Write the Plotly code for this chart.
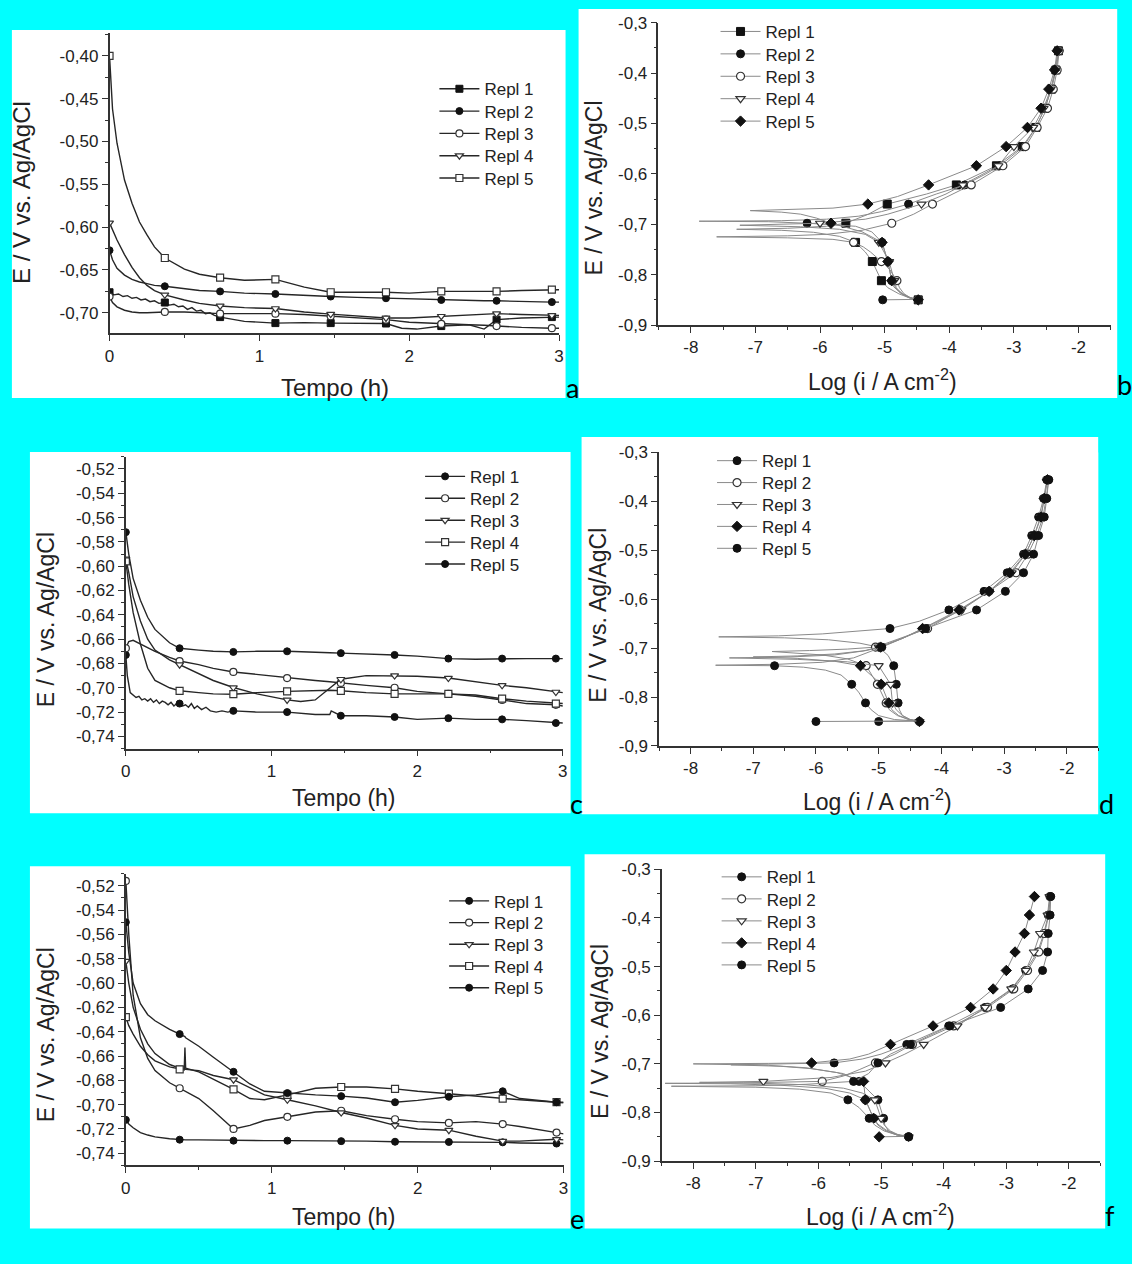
import numpy as np
import plotly.graph_objects as go

W, H = 1132, 1264

# ------------------------------------------------------------------ data
SERIES_NAMES = ["Repl 1", "Repl 2", "Repl 3", "Repl 4", "Repl 5"]
MARK_T = [0, 0.369, 0.738, 1.107, 1.476, 1.845, 2.214, 2.583, 2.952]
GRID_E = [-0.85, -0.812, -0.774, -0.736, -0.698, -0.66, -0.622, -0.584,
          -0.546, -0.508, -0.47, -0.432, -0.394, -0.356]

# tick labels
TIME_TICKS = [0, 1, 2, 3]
TIME_TICKTEXT = ["0", "1", "2", "3"]
A_YTICKS = [-0.40, -0.45, -0.50, -0.55, -0.60, -0.65, -0.70]
A_YTICKTEXT = ["-0,40", "-0,45", "-0,50", "-0,55", "-0,60", "-0,65", "-0,70"]
CE_YTICKS = [-0.52, -0.54, -0.56, -0.58, -0.60, -0.62, -0.64, -0.66, -0.68,
             -0.70, -0.72, -0.74]
CE_YTICKTEXT = ["-0,52", "-0,54", "-0,56", "-0,58", "-0,60", "-0,62", "-0,64",
                "-0,66", "-0,68", "-0,70", "-0,72", "-0,74"]
POL_XTICKS = [-8, -7, -6, -5, -4, -3, -2]
POL_XTICKTEXT = ["-8", "-7", "-6", "-5", "-4", "-3", "-2"]
POL_YTICKS = [-0.3, -0.4, -0.5, -0.6, -0.7, -0.8, -0.9]
POL_YTICKTEXT = ["-0,3", "-0,4", "-0,5", "-0,6", "-0,7", "-0,8", "-0,9"]

# ---- panel a : OCP vs time
A_T = [0, 0.02, 0.05, 0.1, 0.15, 0.2, 0.25, 0.3, 0.369, 0.5, 0.6, 0.738, 0.9,
       1.107, 1.3, 1.476, 1.65, 1.845, 2.0, 2.214, 2.4, 2.5, 2.583, 2.75, 2.952, 3.0]
A_R1_T = [0, 0.03, 0.06, 0.09, 0.12, 0.15, 0.18, 0.21, 0.24, 0.27, 0.30, 0.33,
          0.369, 0.40, 0.43, 0.46, 0.49, 0.52, 0.55, 0.58, 0.61, 0.64, 0.67, 0.70,
          0.738, 0.9, 1.107, 1.3, 1.476, 1.65, 1.845, 1.95, 2.05, 2.214, 2.4, 2.5,
          2.583, 2.75, 2.952, 3.0]
A_R1 = [-0.676, -0.679, -0.678, -0.681, -0.680, -0.683, -0.682, -0.685, -0.684,
        -0.687, -0.686, -0.689, -0.688, -0.691, -0.690, -0.693, -0.692, -0.696,
        -0.694, -0.698, -0.697, -0.701, -0.700, -0.703, -0.705, -0.710, -0.712,
        -0.7115, -0.712, -0.712, -0.7125, -0.718, -0.719, -0.7155, -0.714, -0.719,
        -0.708, -0.706, -0.705, -0.705]
A_R2 = [-0.627, -0.638, -0.648, -0.656, -0.661, -0.664, -0.666, -0.668, -0.669,
        -0.672, -0.674, -0.675, -0.677, -0.678, -0.680, -0.681, -0.682, -0.683,
        -0.684, -0.685, -0.6855, -0.686, -0.686, -0.687, -0.6875, -0.6875]
A_R3 = [-0.681, -0.688, -0.693, -0.697, -0.699, -0.700, -0.700, -0.6995, -0.699,
        -0.699, -0.700, -0.701, -0.701, -0.701, -0.702, -0.704, -0.706, -0.708,
        -0.711, -0.713, -0.714, -0.7145, -0.7155, -0.717, -0.718, -0.718]
A_R4 = [-0.595, -0.603, -0.615, -0.632, -0.647, -0.659, -0.668, -0.674, -0.679,
        -0.685, -0.689, -0.692, -0.694, -0.695, -0.699, -0.7015, -0.704, -0.706,
        -0.706, -0.704, -0.702, -0.701, -0.701, -0.702, -0.703, -0.703]
A_R5 = [-0.40, -0.462, -0.502, -0.545, -0.572, -0.594, -0.609, -0.623, -0.636,
        -0.649, -0.655, -0.659, -0.662, -0.661, -0.670, -0.676, -0.676, -0.676,
        -0.677, -0.675, -0.675, -0.675, -0.675, -0.674, -0.673, -0.673]

# ---- panel c : OCP vs time
C_T = [0, 0.02, 0.05, 0.1, 0.15, 0.2, 0.3, 0.369, 0.5, 0.6, 0.738, 0.9, 1.107,
       1.2, 1.3, 1.4, 1.476, 1.65, 1.845, 2.0, 2.214, 2.4, 2.583, 2.75, 2.952, 3.0]
C_R1_T = [0, 0.01, 0.03, 0.05, 0.07, 0.09, 0.11, 0.13, 0.15, 0.17, 0.19, 0.21,
          0.23, 0.25, 0.27, 0.29, 0.31, 0.33, 0.35, 0.369, 0.39, 0.41, 0.43, 0.45,
          0.47, 0.49, 0.52, 0.55, 0.58, 0.62, 0.66, 0.70, 0.738, 0.9, 1.107, 1.3,
          1.40, 1.41, 1.476, 1.65, 1.845, 2.0, 2.214, 2.4, 2.583, 2.75, 2.952, 3.0]
C_R1 = [-0.673, -0.690, -0.704, -0.706, -0.708, -0.707, -0.710, -0.709, -0.711,
        -0.709, -0.712, -0.710, -0.713, -0.711, -0.712, -0.714, -0.712, -0.715,
        -0.713, -0.713, -0.715, -0.714, -0.716, -0.713, -0.717, -0.715, -0.718,
        -0.716, -0.719, -0.720, -0.719, -0.720, -0.719, -0.720, -0.720, -0.722,
        -0.722, -0.719, -0.723, -0.723, -0.724, -0.726, -0.725, -0.726, -0.726,
        -0.727, -0.729, -0.729]
C_R2 = [-0.6675, -0.662, -0.661, -0.664, -0.667, -0.670, -0.675, -0.678, -0.681,
        -0.684, -0.687, -0.689, -0.692, -0.693, -0.694, -0.695, -0.696, -0.698,
        -0.700, -0.703, -0.705, -0.707, -0.710, -0.713, -0.714, -0.715]
C_R3 = [-0.594, -0.605, -0.625, -0.645, -0.660, -0.669, -0.677, -0.681, -0.688,
        -0.694, -0.6998, -0.705, -0.710, -0.7113, -0.710, -0.700, -0.693, -0.690,
        -0.690, -0.6905, -0.692, -0.695, -0.698, -0.700, -0.7035, -0.704]
C_R4 = [-0.596, -0.615, -0.638, -0.664, -0.684, -0.694, -0.700, -0.7025, -0.704,
        -0.705, -0.7053, -0.704, -0.703, -0.7025, -0.702, -0.702, -0.7025, -0.704,
        -0.705, -0.705, -0.705, -0.706, -0.709, -0.711, -0.713, -0.713]
C_R5 = [-0.572, -0.590, -0.610, -0.628, -0.642, -0.652, -0.663, -0.6675, -0.669,
        -0.670, -0.6705, -0.670, -0.670, -0.6702, -0.671, -0.6712, -0.6715, -0.672,
        -0.673, -0.674, -0.676, -0.6765, -0.676, -0.676, -0.676, -0.676]

# ---- panel e : OCP vs time
E_T = [0, 0.02, 0.05, 0.1, 0.15, 0.2, 0.3, 0.369, 0.40, 0.405, 0.41, 0.5, 0.6,
       0.738, 0.85, 0.95, 1.107, 1.3, 1.476, 1.65, 1.845, 2.0, 2.214, 2.4, 2.583,
       2.7, 2.952, 3.0]
E_R1 = [-0.7125, -0.716, -0.719, -0.723, -0.725, -0.7265, -0.728, -0.7288, -0.729,
        -0.729, -0.729, -0.729, -0.7292, -0.7296, -0.7296, -0.7296, -0.7296,
        -0.7296, -0.730, -0.730, -0.7305, -0.7305, -0.7307, -0.731, -0.731,
        -0.7315, -0.732, -0.732]
E_R2 = [-0.516, -0.560, -0.610, -0.645, -0.662, -0.672, -0.682, -0.6865, -0.688,
        -0.6885, -0.689, -0.695, -0.705, -0.720, -0.717, -0.713, -0.710, -0.706,
        -0.705, -0.709, -0.712, -0.714, -0.715, -0.714, -0.716, -0.718, -0.723,
        -0.724]
E_R3 = [-0.582, -0.600, -0.620, -0.638, -0.650, -0.658, -0.667, -0.670, -0.6705,
        -0.671, -0.671, -0.672, -0.676, -0.6795, -0.686, -0.692, -0.696, -0.701,
        -0.7065, -0.711, -0.717, -0.720, -0.721, -0.726, -0.730, -0.730, -0.7285,
        -0.729]
E_R4 = [-0.628, -0.635, -0.642, -0.652, -0.659, -0.664, -0.669, -0.671, -0.6715,
        -0.653, -0.670, -0.673, -0.679, -0.6875, -0.695, -0.696, -0.692, -0.6865,
        -0.6855, -0.6855, -0.687, -0.689, -0.691, -0.693, -0.695, -0.696, -0.698,
        -0.698]
E_R5 = [-0.550, -0.575, -0.600, -0.617, -0.626, -0.631, -0.638, -0.642, -0.644,
        -0.644, -0.645, -0.652, -0.661, -0.673, -0.683, -0.689, -0.6905, -0.692,
        -0.693, -0.6945, -0.698, -0.6965, -0.6935, -0.692, -0.689, -0.695, -0.698,
        -0.6985]

# ---- panel b : polarization curves (E / V, log i)
B_R1_E = [-0.85, -0.846, -0.838, -0.826, -0.812, -0.79, -0.774, -0.755, -0.736,
          -0.724, -0.716, -0.712, -0.710, -0.708, -0.704, -0.698, -0.68, -0.66,
          -0.64, -0.622, -0.60, -0.584, -0.546, -0.508, -0.47, -0.432, -0.394, -0.356]
B_R1_I = [-4.48, -4.62, -4.78, -4.95, -5.05, -5.13, -5.19, -5.30, -5.45, -5.70,
          -6.10, -6.60, -7.29, -6.50, -5.90, -5.60, -5.25, -4.96, -4.35, -3.89,
          -3.52, -3.27, -2.87, -2.66, -2.52, -2.42, -2.35, -2.31]
B_R2_E = [-0.85, -0.849, -0.845, -0.836, -0.824, -0.812, -0.774, -0.736, -0.715,
          -0.704, -0.698, -0.695, -0.694, -0.693, -0.690, -0.684, -0.675, -0.66,
          -0.64, -0.622, -0.60, -0.584, -0.546, -0.508, -0.47, -0.432, -0.394, -0.356]
B_R2_I = [-5.03, -4.48, -4.62, -4.76, -4.86, -4.89, -4.95, -5.04, -5.20, -5.45,
          -6.20, -6.80, -7.87, -6.60, -5.90, -5.40, -5.05, -4.63, -4.20, -3.76,
          -3.43, -3.22, -2.85, -2.66, -2.52, -2.42, -2.35, -2.30]
B_R3_E = [-0.85, -0.846, -0.838, -0.826, -0.812, -0.79, -0.774, -0.755, -0.745,
          -0.736, -0.730, -0.727, -0.725, -0.723, -0.720, -0.712, -0.698, -0.68,
          -0.66, -0.64, -0.622, -0.584, -0.546, -0.508, -0.47, -0.432, -0.394, -0.356]
B_R3_I = [-4.48, -4.60, -4.70, -4.77, -4.81, -4.92, -5.05, -5.22, -5.33, -5.48,
          -5.80, -6.50, -7.60, -6.50, -5.90, -5.35, -4.89, -4.55, -4.26, -3.95,
          -3.66, -3.17, -2.82, -2.64, -2.48, -2.39, -2.33, -2.30]
B_R4_E = [-0.85, -0.846, -0.838, -0.826, -0.812, -0.774, -0.736, -0.720, -0.710,
          -0.705, -0.702, -0.700, -0.698, -0.690, -0.68, -0.66, -0.64, -0.622,
          -0.584, -0.546, -0.508, -0.47, -0.432, -0.394, -0.356]
B_R4_I = [-4.48, -4.62, -4.74, -4.82, -4.85, -4.93, -5.09, -5.30, -5.70, -6.30,
          -7.24, -6.50, -6.00, -5.30, -4.95, -4.43, -4.05, -3.79, -3.24, -3.00,
          -2.70, -2.54, -2.43, -2.36, -2.32]
B_R5_E = [-0.85, -0.846, -0.838, -0.826, -0.812, -0.774, -0.736, -0.715, -0.698,
          -0.688, -0.680, -0.676, -0.673, -0.671, -0.668, -0.66, -0.645, -0.622,
          -0.584, -0.546, -0.508, -0.47, -0.432, -0.394, -0.356]
B_R5_I = [-4.48, -4.60, -4.72, -4.83, -4.89, -4.95, -5.04, -5.35, -5.83, -6.05,
          -6.30, -6.60, -7.08, -6.50, -5.80, -5.26, -4.80, -4.32, -3.58, -3.12,
          -2.79, -2.58, -2.46, -2.37, -2.33]

# ---- panel d
D_R1_E = [-0.85, -0.849, -0.846, -0.838, -0.826, -0.812, -0.774, -0.736, -0.715,
          -0.698, -0.690, -0.683, -0.679, -0.677, -0.675, -0.671, -0.66, -0.645,
          -0.622, -0.584, -0.546, -0.508, -0.47, -0.432, -0.394, -0.356]
D_R1_I = [-5.00, -4.35, -4.50, -4.62, -4.67, -4.69, -4.72, -4.76, -4.85, -5.00,
          -5.30, -5.80, -6.50, -7.55, -6.60, -5.90, -4.82, -4.35, -3.88, -3.32,
          -2.95, -2.69, -2.56, -2.45, -2.37, -2.32]
D_R2_E = [-0.85, -0.846, -0.838, -0.826, -0.812, -0.774, -0.736, -0.722, -0.714,
          -0.710, -0.707, -0.705, -0.702, -0.698, -0.68, -0.66, -0.622, -0.584,
          -0.546, -0.508, -0.47, -0.432, -0.394, -0.356]
D_R2_I = [-4.35, -4.52, -4.70, -4.83, -4.88, -5.02, -5.20, -5.50, -5.90, -6.30,
          -6.70, -6.10, -5.50, -5.05, -4.65, -4.22, -3.70, -3.24, -2.81, -2.62,
          -2.48, -2.38, -2.33, -2.29]
D_R3_E = [-0.85, -0.846, -0.838, -0.826, -0.812, -0.774, -0.736, -0.728, -0.723,
          -0.720, -0.718, -0.714, -0.706, -0.698, -0.68, -0.66, -0.622, -0.584,
          -0.546, -0.508, -0.47, -0.432, -0.394, -0.356]
D_R3_I = [-4.35, -4.50, -4.62, -4.72, -4.78, -4.81, -5.00, -5.50, -6.30, -7.38,
          -6.40, -5.70, -5.25, -5.00, -4.62, -4.28, -3.68, -3.24, -2.88, -2.66,
          -2.52, -2.42, -2.36, -2.31]
D_R4_E = [-0.85, -0.846, -0.838, -0.826, -0.812, -0.774, -0.736, -0.727, -0.721,
          -0.718, -0.716, -0.712, -0.705, -0.698, -0.68, -0.66, -0.622, -0.584,
          -0.546, -0.508, -0.47, -0.432, -0.394, -0.356]
D_R4_I = [-4.35, -4.52, -4.68, -4.79, -4.84, -4.96, -5.29, -5.70, -6.30, -7.00,
          -6.30, -5.70, -5.20, -4.97, -4.62, -4.30, -3.72, -3.24, -2.91, -2.66,
          -2.52, -2.41, -2.36, -2.31]
D_R5_E = [-0.85, -0.849, -0.846, -0.838, -0.826, -0.812, -0.790, -0.774, -0.755,
          -0.745, -0.739, -0.736, -0.735, -0.733, -0.729, -0.720, -0.698, -0.68,
          -0.66, -0.622, -0.584, -0.546, -0.508, -0.47, -0.432, -0.394, -0.356]
D_R5_I = [-6.00, -4.40, -4.75, -5.00, -5.12, -5.21, -5.32, -5.43, -5.60, -5.85,
          -6.20, -6.66, -7.60, -6.60, -5.90, -5.40, -4.95, -4.62, -4.25, -3.44,
          -2.98, -2.69, -2.53, -2.45, -2.36, -2.32, -2.29]

# ---- panel f
F_R1_E = [-0.85, -0.846, -0.838, -0.826, -0.812, -0.774, -0.736, -0.720, -0.710,
          -0.705, -0.702, -0.700, -0.698, -0.69, -0.68, -0.66, -0.622, -0.584,
          -0.546, -0.508, -0.47, -0.432, -0.394, -0.356]
F_R1_I = [-4.56, -4.75, -4.88, -4.94, -4.96, -5.05, -5.35, -5.60, -6.10, -6.60,
          -7.40, -6.40, -5.75, -5.30, -5.00, -4.59, -3.92, -3.34, -2.90, -2.69,
          -2.50, -2.40, -2.33, -2.30]
F_R2_E = [-0.85, -0.846, -0.838, -0.826, -0.812, -0.774, -0.760, -0.750, -0.744,
          -0.741, -0.740, -0.739, -0.736, -0.725, -0.712, -0.698, -0.68, -0.66,
          -0.622, -0.584, -0.546, -0.508, -0.47, -0.432, -0.394, -0.356]
F_R2_I = [-4.56, -4.75, -4.92, -5.05, -5.12, -5.25, -5.50, -5.90, -6.60, -7.40,
          -8.45, -7.20, -5.94, -5.60, -5.35, -5.09, -4.78, -4.50, -3.84, -3.30,
          -2.88, -2.66, -2.48, -2.39, -2.32, -2.30]
F_R3_E = [-0.85, -0.846, -0.838, -0.826, -0.812, -0.774, -0.760, -0.750, -0.743,
          -0.740, -0.738, -0.737, -0.736, -0.728, -0.715, -0.698, -0.68, -0.66,
          -0.622, -0.584, -0.546, -0.508, -0.47, -0.432, -0.394, -0.356]
F_R3_I = [-4.56, -4.72, -4.85, -4.95, -5.00, -5.10, -5.30, -5.60, -6.20, -6.90,
          -7.90, -7.30, -6.88, -5.80, -5.25, -4.93, -4.62, -4.32, -3.78, -3.34,
          -2.92, -2.69, -2.56, -2.46, -2.34, -2.31]
F_R4_E = [-0.85, -0.849, -0.845, -0.836, -0.824, -0.812, -0.774, -0.736, -0.718,
          -0.708, -0.703, -0.700, -0.699, -0.698, -0.69, -0.68, -0.66, -0.622,
          -0.584, -0.546, -0.508, -0.47, -0.432, -0.394, -0.356]
F_R4_I = [-5.03, -4.56, -4.75, -4.92, -5.05, -5.12, -5.25, -5.28, -5.70, -6.20,
          -6.80, -8.00, -6.80, -6.11, -5.50, -5.20, -4.85, -4.17, -3.57, -3.21,
          -3.00, -2.86, -2.71, -2.63, -2.55]
F_R5_E = [-0.85, -0.846, -0.838, -0.826, -0.812, -0.790, -0.774, -0.760, -0.752,
          -0.748, -0.746, -0.745, -0.742, -0.736, -0.720, -0.698, -0.68, -0.66,
          -0.622, -0.584, -0.546, -0.508, -0.47, -0.432, -0.394, -0.356]
F_R5_I = [-4.56, -4.75, -4.95, -5.10, -5.19, -5.35, -5.53, -5.80, -6.30, -7.00,
          -8.35, -7.00, -6.20, -5.44, -5.20, -5.05, -4.85, -4.53, -3.90, -3.09,
          -2.65, -2.42, -2.34, -2.33, -2.30, -2.29]

# ------------------------------------------------------------------ styles
FONT = "Liberation Sans, Arial, sans-serif"
CYAN = "#00FFFF"
LINE_DARK = "#262626"
LINE_GREY = "#8a8a8a"

# the photographed page comes out slightly shrunk about its centre;
# these factors map the wanted pixel positions to layout positions
SX, OX, SY, OY = 0.990, 5.1, 0.9845, 9.1


def fx(x):
    return min(max((x - OX) / SX, 0), W)


def fy(y):
    return min(max((y - OY) / SY, 0), H)


def mk(symbol, filled, size):
    if filled:
        return dict(symbol=symbol, size=size, color="#111111",
                    line=dict(color="#111111", width=1))
    return dict(symbol=symbol, size=size, color="white",
                line=dict(color="#333333", width=1.2))


STY_A = [("square", True), ("circle", True), ("circle", False),
         ("triangle-down", False), ("square", False)]
STY_B = [("square", True), ("circle", True), ("circle", False),
         ("triangle-down", False), ("diamond", True)]
STY_CE = [("circle", True), ("circle", False), ("triangle-down", False),
          ("square", False), ("circle", True)]
STY_DF = [("circle", True), ("circle", False), ("triangle-down", False),
          ("diamond", True), ("circle", True)]

# legend rows: panel -> (text start x, first row centre y, row step)
LEG = {1: (486, 88.3, 22.3), 2: (766.8, 31, 22.4), 3: (471.7, 475.7, 21.9),
       4: (763.3, 460, 21.9), 5: (495.7, 900, 21.7), 6: (767.9, 876, 22.0)}

fig = go.Figure()
legend_layouts = {}


def axn(i, kind):
    return kind if i == 1 else f"{kind}{i}"


def add_series(i, j, xs, ys, keyvals, keyaxis, name, sty, lcolor, lw, msize):
    xa, ya = axn(i, "x"), axn(i, "y")
    k = (i - 1) * 5 + j + 1
    leg = "legend" if k == 1 else f"legend{k}"
    tx, cy, step = LEG[i]
    legend_layouts[leg] = dict(
        x=fx(tx - 52) / W, y=1 - fy(cy + j * step - 17) / H,
        xanchor="left", yanchor="top", bgcolor="rgba(0,0,0,0)", borderwidth=0,
        itemwidth=40,
        font=dict(family=FONT, size=17, color="#222222"))
    m = mk(sty[0], sty[1], msize)
    fig.add_trace(go.Scatter(x=xs, y=ys, mode="lines",
                             line=dict(color=lcolor, width=lw),
                             xaxis=xa, yaxis=ya, showlegend=False,
                             hoverinfo="skip"))
    ref = xs if keyaxis == "x" else ys
    sel = [q for q, r in enumerate(ref) if any(abs(r - kv) < 1e-6 for kv in keyvals)]
    fig.add_trace(go.Scatter(x=[xs[q] for q in sel], y=[ys[q] for q in sel],
                             mode="markers", marker=m, xaxis=xa, yaxis=ya,
                             showlegend=False, hoverinfo="skip"))
    fig.add_trace(go.Scatter(x=[None], y=[None], mode="lines+markers",
                             line=dict(color=lcolor, width=lw), marker=m,
                             name=name, legend=leg, xaxis=xa, yaxis=ya,
                             showlegend=True))


for j, (name, t, v, s) in enumerate(zip(SERIES_NAMES, [A_R1_T, A_T, A_T, A_T, A_T],
                                        [A_R1, A_R2, A_R3, A_R4, A_R5], STY_A)):
    add_series(1, j, t, v, MARK_T, "x", name, s, LINE_DARK, 1.4, 7)
for j, (name, e, li, s) in enumerate(zip(SERIES_NAMES,
                                         [B_R1_E, B_R2_E, B_R3_E, B_R4_E, B_R5_E],
                                         [B_R1_I, B_R2_I, B_R3_I, B_R4_I, B_R5_I],
                                         STY_B)):
    add_series(2, j, li, e, GRID_E, "y", name, s, LINE_GREY, 1.0, 8)
for j, (name, t, v, s) in enumerate(zip(SERIES_NAMES, [C_R1_T, C_T, C_T, C_T, C_T],
                                        [C_R1, C_R2, C_R3, C_R4, C_R5], STY_CE)):
    add_series(3, j, t, v, MARK_T, "x", name, s, LINE_DARK, 1.4, 7)
for j, (name, e, li, s) in enumerate(zip(SERIES_NAMES,
                                         [D_R1_E, D_R2_E, D_R3_E, D_R4_E, D_R5_E],
                                         [D_R1_I, D_R2_I, D_R3_I, D_R4_I, D_R5_I],
                                         STY_DF)):
    add_series(4, j, li, e, GRID_E, "y", name, s, LINE_GREY, 1.0, 8)
for j, (name, v, s) in enumerate(zip(SERIES_NAMES, [E_R1, E_R2, E_R3, E_R4, E_R5],
                                     STY_CE)):
    add_series(5, j, E_T, v, MARK_T, "x", name, s, LINE_DARK, 1.4, 7)
for j, (name, e, li, s) in enumerate(zip(SERIES_NAMES,
                                         [F_R1_E, F_R2_E, F_R3_E, F_R4_E, F_R5_E],
                                         [F_R1_I, F_R2_I, F_R3_I, F_R4_I, F_R5_I],
                                         STY_DF)):
    add_series(6, j, li, e, GRID_E, "y", name, s, LINE_GREY, 1.0, 8)

# ------------------------------------------------------------------ layout
def dx(x0, x1):
    return [fx(x0) / W, fx(x1) / W]


def dy(ytop, ybot):
    return [1 - fy(ybot) / H, 1 - fy(ytop) / H]


def base_axis():
    return dict(showline=True, linecolor="#333333", linewidth=1.5,
                ticks="outside", ticklen=6, tickwidth=1.3, tickcolor="#333333",
                showgrid=False, zeroline=False, mirror=False,
                tickfont=dict(family=FONT, size=17, color="#222222"),
                tickmode="array")


def minor(vals):
    return dict(tickmode="array", tickvals=vals, ticks="outside", ticklen=3,
                tickwidth=1.1, tickcolor="#333333", showgrid=False)


BOX = {
    1: (109.5, 558.5, 33.3, 333.3),
    2: (657.8, 1109.6, 22.7, 325.0),
    3: (125.8, 562.3, 456.7, 748.3),
    4: (658.5, 1097.0, 452.3, 745.7),
    5: (125.8, 563.0, 873.3, 1165.0),
    6: (661.3, 1099.0, 869.0, 1160.7),
}
YR = {1: [-0.724, -0.3735], 2: [-0.9, -0.3], 3: [-0.75, -0.51],
      4: [-0.9, -0.3], 5: [-0.75, -0.51], 6: [-0.9, -0.3]}

time_minor_x = [0.5, 1.5, 2.5]
a_minor_y = list(np.round(np.arange(-0.725, -0.37, 0.05), 4))
ce_minor_y = list(np.round(np.arange(-0.75, -0.505, 0.02), 4))
pol_minor_x = list(np.arange(-8.5, -1.4, 1.0))
pol_minor_y = list(np.round(np.arange(-0.85, -0.3, 0.1), 3))

layout = dict(width=W, height=H, margin=dict(l=0, r=0, t=0, b=0),
              paper_bgcolor=CYAN, plot_bgcolor="white", hovermode=False,
              font=dict(family=FONT, color="#222222"))
layout.update(legend_layouts)

for i in range(1, 7):
    x0, x1, yt, yb = BOX[i]
    xa = base_axis()
    ya = base_axis()
    xa.update(domain=dx(x0, x1), anchor=axn(i, "y"))
    ya.update(domain=dy(yt, yb), anchor=axn(i, "x"), range=YR[i])
    if i in (1, 3, 5):
        xa.update(range=[0, 3], tickvals=TIME_TICKS, ticktext=TIME_TICKTEXT,
                  minor=minor(time_minor_x))
        if i == 1:
            ya.update(tickvals=A_YTICKS, ticktext=A_YTICKTEXT, minor=minor(a_minor_y))
        else:
            ya.update(tickvals=CE_YTICKS, ticktext=CE_YTICKTEXT, minor=minor(ce_minor_y))
    else:
        xa.update(range=[-8.5, -1.5], tickvals=POL_XTICKS, ticktext=POL_XTICKTEXT,
                  minor=minor(pol_minor_x))
        ya.update(tickvals=POL_YTICKS, ticktext=POL_YTICKTEXT, minor=minor(pol_minor_y))
    layout["xaxis" if i == 1 else f"xaxis{i}"] = xa
    layout["yaxis" if i == 1 else f"yaxis{i}"] = ya

PANELS = [(12, 565, 30, 398), (578, 1116, 7, 398), (30, 570, 452, 813),
          (581, 1097, 437, 814), (30, 570, 866, 1228), (584, 1104, 854, 1228)]
shapes = []
for (x0, x1, y0, y1) in PANELS:
    shapes.append(dict(type="rect", xref="paper", yref="paper", layer="below",
                       x0=fx(x0) / W, x1=fx(x1) / W, y0=1 - fy(y1) / H,
                       y1=1 - fy(y0) / H,
                       fillcolor="white", line=dict(width=0)))
layout["shapes"] = shapes

annotations = []
Y_TITLE = "E / V vs. Ag/AgCl"
X_TIME = "Tempo (h)"
X_POL = "Log (i / A cm<sup>-2</sup>)"
YT_POS = {1: (22, 192, 24), 2: (593, 188, 23), 3: (46, 619, 23),
          4: (598, 615, 23), 5: (46, 1034, 23), 6: (600, 1031, 23)}
XT_POS = {1: (335, 387, 24), 2: (882, 380, 23), 3: (344, 798, 23),
          4: (877, 800, 23), 5: (344, 1217, 23), 6: (880, 1215, 23)}


def ann(text, x, y, size, family=FONT, angle=0, color="#222222"):
    return dict(text=text, x=fx(x) / W, y=1 - fy(y) / H, xref="paper",
                yref="paper", showarrow=False, textangle=angle,
                xanchor="center", yanchor="middle",
                font=dict(family=family, size=size, color=color))


for i in range(1, 7):
    x, y, s = YT_POS[i]
    annotations.append(ann(Y_TITLE, x, y, s, angle=-90))
    x, y, s = XT_POS[i]
    annotations.append(ann(X_TIME if i in (1, 3, 5) else X_POL, x, y, s))
LETTERS = [("a", 572, 387), ("b", 1123, 384), ("c", 576, 803),
           ("d", 1105, 803), ("e", 576, 1218), ("f", 1109, 1215)]
for txt, x, y in LETTERS:
    annotations.append(ann(txt, x, y, 27, family="Lato, Open Sans, sans-serif",
                           color="#000000"))
layout["annotations"] = annotations

fig.update_layout(**layout)
fig.write_html(
    "out.html",
    config={"displayModeBar": False},
    post_script="document.body.style.margin='0px';"
                "document.body.style.overflow='hidden';",
)
